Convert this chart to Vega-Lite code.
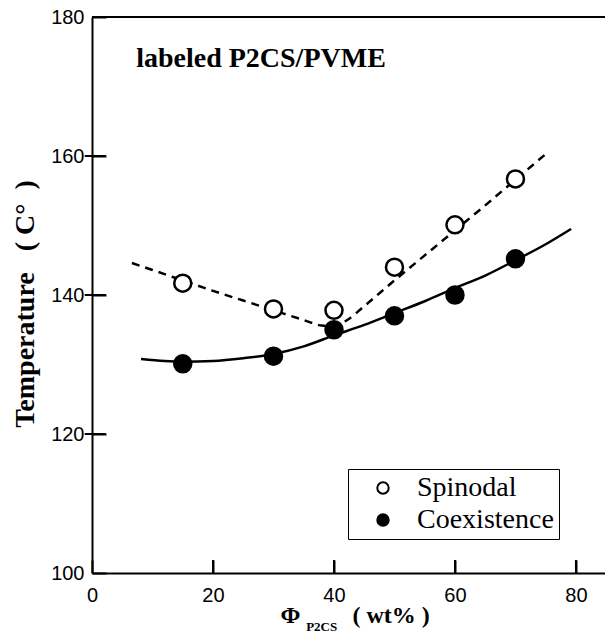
{
  "$schema": "https://vega.github.io/schema/vega-lite/v6.json",
  "width": 513,
  "height": 556,
  "padding": {"left": 11, "top": 7, "right": 0, "bottom": 0},
  "background": "white",
  "config": {
    "view": {"stroke": null},
    "axis": {
      "grid": false,
      "domainColor": "black",
      "tickColor": "black",
      "labelColor": "black",
      "titleColor": "black",
      "domainWidth": 2,
      "tickWidth": 2,
      "labelFont": "Liberation Sans",
      "labelFontSize": 20,
      "labelFlush": false,
      "labelOverlap": false
    },
    "legend": {
      "strokeColor": "black",
      "padding": 5,
      "fillColor": "white",
      "symbolStrokeColor": "black",
      "symbolStrokeWidth": 2,
      "labelFont": "Liberation Serif",
      "labelFontSize": 28,
      "labelColor": "black"
    }
  },
  "datasets": {
    "points": [
      {"phi": 15, "T": 141.7, "series": "Spinodal"},
      {"phi": 30, "T": 138.0, "series": "Spinodal"},
      {"phi": 40, "T": 137.8, "series": "Spinodal"},
      {"phi": 50, "T": 144.0, "series": "Spinodal"},
      {"phi": 60, "T": 150.1, "series": "Spinodal"},
      {"phi": 70, "T": 156.7, "series": "Spinodal"},
      {"phi": 15, "T": 130.1, "series": "Coexistence"},
      {"phi": 30, "T": 131.2, "series": "Coexistence"},
      {"phi": 40, "T": 135.0, "series": "Coexistence"},
      {"phi": 50, "T": 137.0, "series": "Coexistence"},
      {"phi": 60, "T": 140.0, "series": "Coexistence"},
      {"phi": 70, "T": 145.2, "series": "Coexistence"}
    ],
    "spinodalCurve": [
      {"phi": 6.6, "T": 144.6},
      {"phi": 10, "T": 143.6},
      {"phi": 15, "T": 142.1},
      {"phi": 20, "T": 140.6},
      {"phi": 25, "T": 139.2},
      {"phi": 30, "T": 137.8},
      {"phi": 35, "T": 136.4},
      {"phi": 38, "T": 135.6},
      {"phi": 40, "T": 135.5},
      {"phi": 42, "T": 136.3},
      {"phi": 45, "T": 138.4},
      {"phi": 50, "T": 142.1},
      {"phi": 55, "T": 145.7},
      {"phi": 60, "T": 149.3},
      {"phi": 65, "T": 152.9},
      {"phi": 70, "T": 156.6},
      {"phi": 74.9, "T": 160.2}
    ],
    "coexCurve": [
      {"phi": 8.1, "T": 130.8},
      {"phi": 12, "T": 130.5},
      {"phi": 15, "T": 130.4},
      {"phi": 20, "T": 130.5},
      {"phi": 25, "T": 130.9},
      {"phi": 30, "T": 131.5},
      {"phi": 35, "T": 132.6},
      {"phi": 40, "T": 134.2},
      {"phi": 45, "T": 135.7},
      {"phi": 50, "T": 137.4},
      {"phi": 55, "T": 139.1},
      {"phi": 60, "T": 141.0},
      {"phi": 65, "T": 142.8},
      {"phi": 70, "T": 145.0},
      {"phi": 75, "T": 147.3},
      {"phi": 79.2, "T": 149.5}
    ],
    "xticks": [
      {"phi": 20}, {"phi": 40}, {"phi": 60}, {"phi": 80}
    ],
    "yticks": [
      {"T": 120}, {"T": 140}, {"T": 160}
    ],
    "note": [
      {"label": "labeled P2CS/PVME", "sub": "P2CS"}
    ]
  },
  "layer": [
    {
      "data": {"name": "coexCurve"},
      "mark": {"type": "line", "interpolate": "monotone", "strokeWidth": 2.5, "color": "black"},
      "encoding": {
        "x": {
          "field": "phi", "type": "quantitative",
          "scale": {"domain": [0, 84.8], "nice": false, "zero": false},
          "axis": {
            "orient": "bottom", "values": [0, 20, 40, 60, 80], "tickSize": -13, "labelPadding": 25,
            "title": "Φ\u2003\u2003\u2006( wt% )",
            "titleFont": "Liberation Serif", "titleFontWeight": "bold", "titleFontSize": 24,
            "titleX": 188, "titleY": 49, "titleAlign": "left", "titleBaseline": "alphabetic"
          }
        },
        "y": {
          "field": "T", "type": "quantitative",
          "scale": {"domain": [100, 180], "nice": false, "zero": false},
          "axis": {
            "orient": "left", "values": [100, 120, 140, 160, 180], "tickSize": -14, "labelPadding": 22,
            "title": "Temperature\u2002\u2005( C°\u2002)",
            "titleFont": "Liberation Serif", "titleFontWeight": "bold", "titleFontSize": 28,
            "titleAngle": 270, "titleX": -59, "titleY": 286.5, "titleAlign": "center", "titleBaseline": "alphabetic"
          }
        }
      }
    },
    {
      "data": {"name": "spinodalCurve"},
      "mark": {"type": "line", "interpolate": "monotone", "strokeWidth": 2.5, "color": "black", "strokeDash": [8, 6]},
      "encoding": {
        "x": {"field": "phi", "type": "quantitative"},
        "y": {"field": "T", "type": "quantitative"}
      }
    },
    {
      "data": {"name": "xticks"},
      "mark": {"type": "rule", "strokeWidth": 2, "color": "black"},
      "encoding": {
        "x": {"field": "phi", "type": "quantitative"},
        "y": {"datum": 100, "type": "quantitative"},
        "y2": {"datum": 101.87}
      }
    },
    {
      "data": {"name": "yticks"},
      "mark": {"type": "rule", "strokeWidth": 2, "color": "black"},
      "encoding": {
        "y": {"field": "T", "type": "quantitative"},
        "x": {"datum": -1.2, "type": "quantitative"},
        "x2": {"datum": 2.3}
      }
    },
    {
      "data": {"name": "points"},
      "mark": {"type": "point", "shape": "circle", "filled": true, "stroke": "black", "strokeWidth": 2.5, "opacity": 1, "size": 290},
      "encoding": {
        "x": {"field": "phi", "type": "quantitative"},
        "y": {"field": "T", "type": "quantitative"},
        "fill": {
          "field": "series", "type": "nominal",
          "scale": {"domain": ["Spinodal", "Coexistence"], "range": ["white", "black"]},
          "legend": {
            "orient": "none", "legendX": 256, "legendY": 452, "title": null,
            "symbolType": "circle", "symbolSize": 130,
            "symbolOffset": 16, "labelOffset": 20, "rowPadding": 4
          }
        }
      }
    },
    {
      "data": {"name": "note"},
      "mark": {"type": "rule", "strokeWidth": 2, "color": "black"},
      "encoding": {
        "y": {"datum": 180, "type": "quantitative"}
      }
    },
    {
      "data": {"name": "note"},
      "mark": {"type": "text", "font": "Liberation Serif", "fontWeight": "bold", "fontSize": 28, "align": "left", "baseline": "alphabetic", "color": "black"},
      "encoding": {
        "x": {"datum": 7.3, "type": "quantitative"},
        "y": {"datum": 172.8, "type": "quantitative"},
        "text": {"field": "label", "type": "nominal"}
      }
    },
    {
      "data": {"name": "note"},
      "mark": {"type": "text", "font": "Liberation Serif", "fontWeight": "bold", "fontSize": 13, "align": "left", "baseline": "alphabetic", "color": "black"},
      "encoding": {
        "x": {"datum": 35.4, "type": "quantitative"},
        "y": {"datum": 91.65, "type": "quantitative"},
        "text": {"field": "sub", "type": "nominal"}
      }
    }
  ]
}
